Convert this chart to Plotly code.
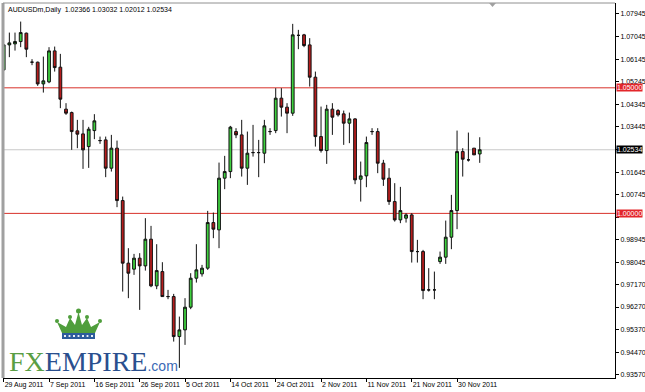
import plotly.graph_objects as go

# ---------------- data ----------------
dates = [
    "29 Aug 2011", "30 Aug 2011", "31 Aug 2011",
    "1 Sep 2011", "2 Sep 2011", "4 Sep 2011", "5 Sep 2011", "6 Sep 2011", "7 Sep 2011",
    "8 Sep 2011", "9 Sep 2011", "11 Sep 2011", "12 Sep 2011", "13 Sep 2011", "14 Sep 2011",
    "15 Sep 2011", "16 Sep 2011", "18 Sep 2011", "19 Sep 2011", "20 Sep 2011", "21 Sep 2011",
    "22 Sep 2011", "23 Sep 2011", "25 Sep 2011", "26 Sep 2011", "27 Sep 2011", "28 Sep 2011",
    "29 Sep 2011", "30 Sep 2011",
    "2 Oct 2011", "3 Oct 2011", "4 Oct 2011", "5 Oct 2011", "6 Oct 2011", "7 Oct 2011",
    "9 Oct 2011", "10 Oct 2011", "11 Oct 2011", "12 Oct 2011", "13 Oct 2011", "14 Oct 2011",
    "16 Oct 2011", "17 Oct 2011", "18 Oct 2011", "19 Oct 2011", "20 Oct 2011", "21 Oct 2011",
    "23 Oct 2011", "24 Oct 2011", "25 Oct 2011", "26 Oct 2011", "27 Oct 2011", "28 Oct 2011",
    "30 Oct 2011", "31 Oct 2011",
    "1 Nov 2011", "2 Nov 2011", "3 Nov 2011", "4 Nov 2011", "6 Nov 2011", "7 Nov 2011",
    "8 Nov 2011", "9 Nov 2011", "10 Nov 2011", "11 Nov 2011", "13 Nov 2011", "14 Nov 2011",
    "15 Nov 2011", "16 Nov 2011", "17 Nov 2011", "18 Nov 2011", "20 Nov 2011", "21 Nov 2011",
    "22 Nov 2011", "23 Nov 2011", "24 Nov 2011", "25 Nov 2011", "27 Nov 2011", "28 Nov 2011",
    "29 Nov 2011", "30 Nov 2011",
    "1 Dec 2011", "2 Dec 2011", "4 Dec 2011", "5 Dec 2011",
]

opens = [
    1.05715, 1.06710, 1.06750, 1.06842, 1.07176, 1.06021, 1.06021, 1.05157, 1.05237, 1.06471,
    1.05822, 1.04150, 1.04014, 1.03286, 1.03166, 1.02660, 1.03297, 1.02899, 1.02927, 1.01800,
    1.02597, 1.00510, 0.98017, 0.97778, 0.98216, 0.97909, 0.98972, 0.97113, 0.97682, 0.96687,
    0.96687, 0.95094, 0.95360, 0.96264, 0.97419, 0.97591, 0.97818, 0.99634, 0.99343, 1.01402,
    1.01665, 1.03258, 1.03126, 1.01800, 1.02421, 1.02421, 1.02397, 1.03258, 1.03297, 1.04588,
    1.04229, 1.03990, 1.07089, 1.07109, 1.06710, 1.05424, 1.03058, 1.02501, 1.04150, 1.04094,
    1.03963, 1.03592, 1.03763, 1.01362, 1.01493, 1.03258, 1.03258, 1.01999, 1.01402, 1.00470,
    0.99741, 0.99809, 0.99940, 0.98479, 0.98479, 0.96953, 0.96953, 0.98080, 0.98256, 0.99052,
    1.00112, 1.02461, 1.02131, 1.02597, 1.02366,
]
highs = [
    1.06750, 1.07200, 1.07200, 1.07638, 1.07200, 1.06141, 1.06045, 1.06244, 1.06619, 1.06643,
    1.06352, 1.04389, 1.04054, 1.03724, 1.03724, 1.03445, 1.03951, 1.03058, 1.03058, 1.03126,
    1.02899, 1.00669, 0.98614, 0.98387, 0.98415, 0.99809, 0.99502, 0.98773, 0.98056, 0.96953,
    0.96794, 0.95890, 0.96623, 0.97618, 0.98773, 0.97949, 1.00100, 1.00032, 1.02023, 1.02290,
    1.03485, 1.03393, 1.03724, 1.03258, 1.03524, 1.02927, 1.03724, 1.03393, 1.04986, 1.04986,
    1.04389, 1.07547, 1.07308, 1.07149, 1.06977, 1.05647, 1.04253, 1.04321, 1.04389, 1.04150,
    1.04094, 1.04014, 1.03791, 1.02063, 1.03058, 1.03393, 1.03393, 1.02131, 1.01800, 1.01203,
    1.01055, 1.00008, 1.00008, 0.98945, 0.98546, 0.97818, 0.97682, 0.98479, 0.99713, 1.00737,
    1.03297, 1.02597, 1.03218, 1.02597, 1.03032,
]
lows = [
    1.05675, 1.06221, 1.06483, 1.06619, 1.06221, 1.05902, 1.05078, 1.04811, 1.05185, 1.05647,
    1.04190, 1.03923, 1.02529, 1.02597, 1.01772, 1.01812, 1.02955, 1.02768, 1.01442, 1.01665,
    1.00247, 0.96886, 0.96623, 0.97551, 0.96157, 0.97722, 0.97061, 0.96981, 0.96687, 0.96583,
    0.94894, 0.93847, 0.94763, 0.96185, 0.97244, 0.97483, 0.97750, 0.99012, 0.98614, 1.00964,
    1.01402, 1.02995, 1.01466, 1.01135, 1.02262, 1.01442, 1.01999, 1.03126, 1.03194, 1.03855,
    1.03194, 1.03883, 1.06539, 1.06619, 1.05050, 1.02660, 1.02421, 1.01971, 1.03126, 1.03855,
    1.02728, 1.02796, 1.01163, 1.00470, 1.01043, 1.03126, 1.01601, 1.01095, 1.00338, 0.99673,
    0.99610, 0.99634, 0.98041, 0.98041, 0.96583, 0.96886, 0.96583, 0.97989, 0.97989, 0.98574,
    0.99371, 1.01466, 1.02063, 1.02330, 1.02012,
]
closes = [
    1.06710, 1.06790, 1.06842, 1.07200, 1.06539, 1.06021, 1.05157, 1.05277, 1.06471, 1.05806,
    1.04548, 1.03990, 1.03258, 1.03154, 1.02529, 1.03353, 1.03684, 1.02899, 1.01800, 1.02597,
    1.00510, 0.98017, 0.97618, 0.98216, 0.97909, 0.98972, 0.97113, 0.97722, 0.96687, 0.96687,
    0.95094, 0.95360, 0.96264, 0.97419, 0.97750, 0.97818, 0.99634, 0.99371, 1.01402, 1.01665,
    1.03433, 1.03126, 1.01800, 1.02397, 1.02421, 1.02421, 1.03485, 1.03258, 1.04588, 1.04229,
    1.03990, 1.07109, 1.07089, 1.06683, 1.05424, 1.03058, 1.02501, 1.04150, 1.03831, 1.03923,
    1.03592, 1.03763, 1.01334, 1.01493, 1.02820, 1.03258, 1.01999, 1.01362, 1.00470, 0.99741,
    1.00112, 0.99940, 0.98479, 0.98479, 0.96926, 0.96953, 0.96953, 0.98256, 0.99052, 1.00112,
    1.02461, 1.02158, 1.02131, 1.02330, 1.02534,
]

xtick_dates = ["29 Aug 2011", "7 Sep 2011", "16 Sep 2011", "26 Sep 2011", "5 Oct 2011",
               "14 Oct 2011", "24 Oct 2011", "2 Nov 2011", "11 Nov 2011", "21 Nov 2011",
               "30 Nov 2011"]
ytick_vals = [1.07945, 1.07045, 1.06145, 1.05245, 1.04345, 1.03445, 1.02545, 1.01645,
              1.00745, 0.99845, 0.98945, 0.98045, 0.97170, 0.96270, 0.95370, 0.94470, 0.93570]
# labels hidden behind the price boxes are left blank
ytick_text = ["1.07945", "1.07045", "1.06145", "1.05245", "1.04345", "1.03445", "", "1.01645",
              "1.00745", "", "0.98945", "0.98045", "0.97170", "0.96270", "0.95370", "0.94470",
              "0.93570"]
levels = [1.05000, 1.00000]
last_price = 1.02534
title_text = "AUDUSDm,Daily  1.02366 1.03032 1.02012 1.02534"

# ---------------- figure ----------------
W, H = 645, 392
ML, MR, MT, MB = 3, 30, 3, 14
PW, PH = W - ML - MR, H - MT - MB


def px(x, y):
    """pixel -> paper coords (decorations only)"""
    return (x - ML) / PW, (H - MB - y) / PH


FONT = "Liberation Sans, Arial, sans-serif"

fig = go.Figure()
fig.add_trace(go.Candlestick(
    x=dates, open=opens, high=highs, low=lows, close=closes,
    increasing=dict(line=dict(color="#111111", width=1), fillcolor="#3ed13e"),
    decreasing=dict(line=dict(color="#111111", width=1), fillcolor="#b51d1d"),
    whiskerwidth=0, showlegend=False, hoverinfo="skip",
))

shapes = []
# current price line
shapes.append(dict(type="line", xref="paper", x0=0, x1=1, yref="y", y0=last_price, y1=last_price,
                   line=dict(color="#c8c8c8", width=1), layer="below"))
for lv in levels:
    shapes.append(dict(type="line", xref="paper", x0=0, x1=1, yref="y", y0=lv, y1=lv,
                       line=dict(color="#d8302a", width=1), layer="below"))
# frame: left grey border and top border
shapes.append(dict(type="line", xref="paper", yref="paper", x0=0, x1=0, y0=0, y1=1,
                   line=dict(color="#a0a0a0", width=3)))
shapes.append(dict(type="line", xref="paper", yref="paper", x0=0, x1=1, y0=1, y1=1,
                   line=dict(color="#909090", width=1)))
# small shift marker triangle at the top
a = px(489, 3); b = px(496, 3); c = px(492.5, 7)
shapes.append(dict(type="path", xref="paper", yref="paper",
                   path="M %f,%f L %f,%f L %f,%f Z" % (a + b + c),
                   fillcolor="#a0a0a0", line=dict(width=0)))
# crown logo
crown_pts = [(62, 333), (57, 322), (66, 327), (70, 318), (75, 325), (78.5, 312),
             (82, 325), (87, 318), (91, 327), (100, 322), (95, 333)]
pp = [px(*p) for p in crown_pts]
path = "M " + " L ".join("%f,%f" % q for q in pp) + " Z"
shapes.append(dict(type="path", xref="paper", yref="paper", path=path,
                   fillcolor="#4f9e3c", line=dict(width=0)))
for (cx, cy, r) in [(57, 321, 2), (70, 317, 2), (78.5, 311, 2.5), (87, 317, 2), (100, 321, 2)]:
    x0, y0 = px(cx - r, cy - r); x1, y1 = px(cx + r, cy + r)
    shapes.append(dict(type="circle", xref="paper", yref="paper", x0=x0, y0=y0, x1=x1, y1=y1,
                       fillcolor="#4f9e3c", line=dict(width=0)))
x0, y0 = px(62, 333); x1, y1 = px(95, 339)
shapes.append(dict(type="rect", xref="paper", yref="paper", x0=x0, y0=y0, x1=x1, y1=y1,
                   fillcolor="#2d5c9c", line=dict(width=0)))
for k in range(7):
    cx = 65 + k * 4.5
    x0, y0 = px(cx - 0.9, 335.1); x1, y1 = px(cx + 0.9, 336.9)
    shapes.append(dict(type="rect", xref="paper", yref="paper", x0=x0, y0=y0, x1=x1, y1=y1,
                       fillcolor="white", line=dict(width=0)))

annotations = []
annotations.append(dict(xref="paper", yref="paper", x=0, y=1, xanchor="left", yanchor="top",
                        xshift=3, yshift=-1, text=title_text, showarrow=False,
                        font=dict(family=FONT, size=7, color="#000000")))
# right-side price boxes
for lv in levels:
    annotations.append(dict(xref="paper", yref="y", x=1, y=lv, xanchor="left", yanchor="middle",
                            text="%.5f" % lv, showarrow=False, bgcolor="#e3262b",
                            borderpad=0, xshift=1,
                            font=dict(family=FONT, size=7, color="white")))
annotations.append(dict(xref="paper", yref="y", x=1, y=last_price, xanchor="left", yanchor="middle",
                        text="%.5f" % last_price, showarrow=False, bgcolor="#000000",
                        borderpad=0, xshift=1,
                        font=dict(family=FONT, size=7, color="white")))
# FXEMPIRE logo text
lx, ly = px(7, 361)
annotations.append(dict(xref="paper", yref="paper", x=lx, y=ly, xanchor="left", yanchor="middle",
                        showarrow=False,
                        text="<span style='color:#5a9e44'>FX</span>"
                             "<span style='color:#2a4f8e'>EMPIRE</span>"
                             "<span style='color:#3a6ab5;font-size:14px;font-family:Liberation Sans'>.com</span>",
                        font=dict(family="Liberation Serif, Times New Roman, serif", size=28)))

fig.update_layout(
    width=W, height=H, margin=dict(l=ML, r=MR, t=MT, b=MB, autoexpand=False),
    paper_bgcolor="white", plot_bgcolor="white", boxgap=0.3,
    shapes=shapes, annotations=annotations,
    xaxis=dict(type="category", range=[-0.12, 107.87], tickvals=xtick_dates, ticktext=xtick_dates,
               tickangle=0, automargin=False,
               showgrid=False, zeroline=False, ticks="outside", ticklen=3, tickcolor="#000000",
               ticklabelposition="outside right",
               tickfont=dict(family=FONT, size=7, color="#000000"),
               showline=True, linecolor="#000000", linewidth=1,
               rangeslider=dict(visible=False), fixedrange=True),
    yaxis=dict(side="right", range=[0.93444, 1.08378], tickvals=ytick_vals, ticktext=ytick_text,
               automargin=False,
               showgrid=False, zeroline=False, ticks="outside", ticklen=3, tickcolor="#000000",
               tickfont=dict(family=FONT, size=7, color="#000000"),
               showline=True, linecolor="#000000", linewidth=1, fixedrange=True),
)

fig.write_html("out.html")
